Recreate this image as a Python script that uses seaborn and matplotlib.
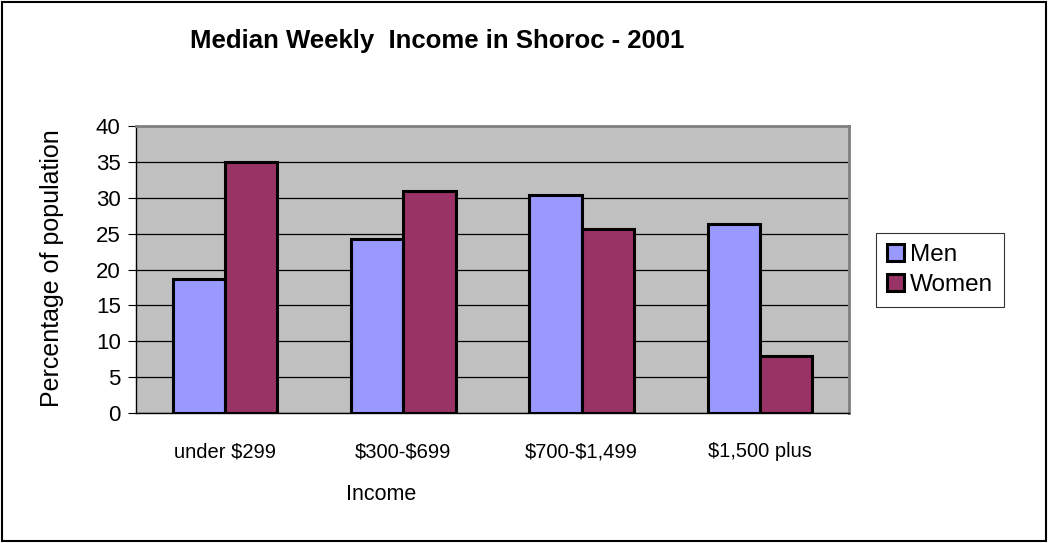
import pandas as pd
import numpy as np
import matplotlib
matplotlib.use('Agg')
import matplotlib.pyplot as plt
import seaborn as sns
from matplotlib.patches import Rectangle

# values
income_bands = ['under $299', '$300-$699', '$700-$1,499', '$1,500 plus']
men = [18.7, 24.2, 30.4, 26.4]
women = [35.0, 31.0, 25.7, 8.0]
y_ticks = [0, 5, 10, 15, 20, 25, 30, 35, 40]

df = pd.DataFrame({
    'Income': income_bands * 2,
    'Percent': men + women,
    'Sex': ['Men'] * len(men) + ['Women'] * len(women),
})

sns.set_theme(style='white')
plt.rcParams['font.family'] = ['Liberation Sans', 'DejaVu Sans']
plt.rcParams['text.parse_math'] = False  # keep the dollar signs literal
plt.rcParams['text.color'] = 'black'
plt.rcParams['xtick.labelcolor'] = 'black'
plt.rcParams['ytick.labelcolor'] = 'black'

W, H = 1048, 543
fig = plt.figure(figsize=(W / 100, H / 100), dpi=100)
fig.patch.set_facecolor('white')

# plot area in pixel coords of the reference
left, right, top, bottom = 136, 849, 126, 413
ax = fig.add_axes([left / W, 1 - bottom / H, (right - left) / W, (bottom - top) / H])
ax.set_facecolor('#C0C0C0')
ax.set_axisbelow(True)

sns.barplot(data=df, x='Income', y='Percent', hue='Sex', ax=ax,
            palette={'Men': '#9999FF', 'Women': '#993366'},
            edgecolor='black', linewidth=2.2, width=0.585, gap=0,
            saturation=1, errorbar=None)

ax.set_ylim(0, 40)
ax.set_xlim(-0.5, 3.5)
ax.set_yticks(y_ticks)
ax.yaxis.grid(True, color='black', linewidth=0.9)
ax.xaxis.grid(False)

# category labels at centres, tick marks at the boundaries
ax.set_xticks(range(len(income_bands)))
ax.set_xticklabels(income_bands)
ax.set_xticks(np.arange(-0.5, len(income_bands)), minor=True)
ax.tick_params(axis='x', which='major', length=0, pad=21, labelsize=14.5, labelcolor='black')
ax.tick_params(axis='x', which='minor', length=6, width=0.8, color='black', direction='out')
ax.tick_params(axis='y', length=6, width=0.8, color='black', direction='out',
               labelsize=16, pad=5, left=True, labelcolor='black')

for side in ['left', 'bottom']:
    ax.spines[side].set_color('black')
    ax.spines[side].set_linewidth(1.0)
for side in ['top', 'right']:
    ax.spines[side].set_color('#808080')
    ax.spines[side].set_linewidth(2.0)

ax.set_xlabel('')
ax.set_ylabel('')

fig.text(437 / W, 1 - 41 / H, 'Median Weekly  Income in Shoroc - 2001',
         ha='center', va='center', fontsize=18.5, fontweight='bold', color='black')
fig.text(381 / W, 1 - 495 / H, 'Income', ha='center', va='center', fontsize=15.5,
         color='black')
fig.text(52 / W, 1 - 268 / H, 'Percentage of population', ha='center', va='center',
         rotation=90, fontsize=18, color='black')

# legend to the right of the plot
handles, labels = ax.get_legend_handles_labels()
for h in handles:
    h.set_linewidth(2.2)
    h.set_edgecolor('black')
leg = ax.legend(handles, labels, loc='center left',
                bbox_to_anchor=(876 / W, 1 - 270 / H), bbox_transform=fig.transFigure,
                frameon=True, fancybox=False, edgecolor='black', fontsize=17.5,
                handlelength=0.7, handleheight=0.7, handletextpad=0.25,
                borderpad=0.45, labelspacing=0.3, borderaxespad=0)
leg.get_frame().set_linewidth(0.8)
for t in leg.get_texts():
    t.set_color('black')

# outer chart border
fig.patches.append(Rectangle((0.002, 0.003), 0.996, 0.994, transform=fig.transFigure,
                             fill=False, edgecolor='black', linewidth=1.5))

fig.savefig('out.png', dpi=100)
